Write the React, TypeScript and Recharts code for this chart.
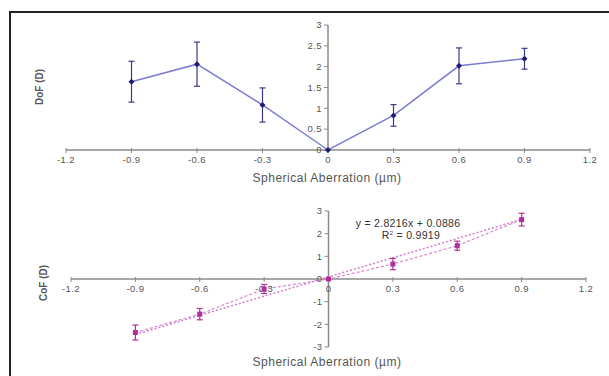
import { LineChart, Line, XAxis, YAxis, ErrorBar, ReferenceLine, ReferenceDot } from "recharts"

// spherical aberration (µm)
const aberration = [-0.9, -0.6, -0.3, 0, 0.3, 0.6, 0.9]
// top panel: depth of focus (D) with error
const dof = [1.64, 2.06, 1.08, 0, 0.83, 2.02, 2.19]
const dofErr = [0.49, 0.53, 0.41, 0, 0.26, 0.43, 0.25]
// bottom panel: centre of focus (D) with error
const cof = [-2.36, -1.55, -0.44, 0, 0.66, 1.47, 2.62]
const cofErr = [0.33, 0.25, 0.2, 0, 0.25, 0.2, 0.28]
// linear trendline end points
const trendX = [-0.9, 0.9]
const trendY = [-2.45, 2.63]

const xTicks = ["-1.2", "-0.9", "-0.6", "-0.3", "0", "0.3", "0.6", "0.9", "1.2"]
const dofTicks = ["0", "0.5", "1", "1.5", "2", "2.5", "3"]
const cofTicks = ["-3", "-2", "-1", "0", "1", "2", "3"]

const topData = aberration.map((x, i) => ({ x, y: dof[i], err: dofErr[i] }))
const bottomData = aberration.map((x, i) => ({ x, y: cof[i], err: cofErr[i] }))

const AXIS = "#8a8a8a"
const TXT = "#555"
const FONT = "'Liberation Sans', Arial, sans-serif"

const yTick = (label: string) => (p: any) => (
  <g>
    <line x1={p.cx - 4} x2={p.cx} y1={p.cy} y2={p.cy} stroke={AXIS} />
    <text x={p.cx - 6} y={p.cy} dy="0.35em" textAnchor="end" fontSize={9.5} letterSpacing={0.4} fill={TXT} fontFamily={FONT}>
      {label}
    </text>
  </g>
)

const xTick = (label: string) => (p: any) => (
  <g>
    <line x1={p.cx} x2={p.cx} y1={p.cy - 2} y2={p.cy + 3} stroke={AXIS} />
    <text x={p.cx} y={p.cy + 13} textAnchor="middle" fontSize={9.5} letterSpacing={0.4} fill={TXT} fontFamily={FONT}>
      {label}
    </text>
  </g>
)

const Diamond = (p: any) => (
  <path d={`M${p.cx},${p.cy - 3} L${p.cx + 3},${p.cy} L${p.cx},${p.cy + 3} L${p.cx - 3},${p.cy} Z`} fill="#1c1c70" />
)

const Square = (p: any) => <rect x={p.cx - 2.5} y={p.cy - 2.5} width={5} height={5} fill="#b0309a" />

const label = (extra: React.CSSProperties): React.CSSProperties => ({
  position: "absolute",
  fontFamily: FONT,
  color: TXT,
  whiteSpace: "nowrap",
  ...extra,
})

export default function App() {
  return (
    <div style={{ position: "fixed", left: 0, top: 0, width: 609, height: 376, overflow: "hidden", background: "#fff" }}>
      <div
        style={{
          position: "absolute",
          left: 9,
          top: 11,
          width: 700,
          height: 500,
          borderTop: "2px solid #222",
          borderLeft: "2px solid #222",
        }}
      />

      <div style={{ position: "absolute", left: 0, top: 0 }}>
        <LineChart width={609} height={190} data={topData} margin={{ top: 25, right: 19, bottom: 40, left: 66 }}>
          <XAxis type="number" dataKey="x" domain={[-1.2, 1.2]} hide />
          <YAxis type="number" domain={[0, 3]} hide />
          <ReferenceLine y={0} stroke={AXIS} strokeWidth={1.5} ifOverflow="visible" />
          <ReferenceLine x={0} stroke={AXIS} strokeWidth={1.5} ifOverflow="visible" />
          {xTicks.map((t) => (
            <ReferenceDot key={"x" + t} x={Number(t)} y={0} r={1} ifOverflow="visible" shape={xTick(t)} />
          ))}
          {dofTicks.map((t) => (
            <ReferenceDot key={"y" + t} x={0} y={Number(t)} r={1} ifOverflow="visible" shape={yTick(t)} />
          ))}
          <Line
            dataKey="y"
            stroke="#7c7cd2"
            strokeWidth={1.5}
            dot={<Diamond />}
            isAnimationActive={false}
          >
            <ErrorBar dataKey="err" direction="y" width={3} stroke="#3a3a8a" strokeWidth={1.2} />
          </Line>
        </LineChart>
      </div>

      <div style={{ position: "absolute", left: 0, top: 190 }}>
        <LineChart width={609} height={186} data={bottomData} margin={{ top: 21, right: 23, bottom: 29, left: 71 }}>
          <XAxis type="number" dataKey="x" domain={[-1.2, 1.2]} hide />
          <YAxis type="number" domain={[-3, 3]} hide />
          <ReferenceLine y={0} stroke={AXIS} strokeWidth={1.5} ifOverflow="visible" />
          <ReferenceLine x={0} stroke={AXIS} strokeWidth={1.5} ifOverflow="visible" />
          {xTicks.map((t) => (
            <ReferenceDot key={"x" + t} x={Number(t)} y={0} r={1} ifOverflow="visible" shape={xTick(t)} />
          ))}
          {cofTicks.map((t) => (
            <ReferenceDot key={"y" + t} x={0} y={Number(t)} r={1} ifOverflow="visible" shape={yTick(t)} />
          ))}
          <ReferenceLine
            segment={[
              { x: trendX[0], y: trendY[0] },
              { x: trendX[1], y: trendY[1] },
            ]}
            stroke="#d47ccc"
            strokeWidth={1.5}
            strokeDasharray="2 2"
            ifOverflow="visible"
          />
          <Line
            dataKey="y"
            stroke="#d88bd0"
            strokeWidth={1.2}
            strokeDasharray="3 2"
            dot={<Square />}
            isAnimationActive={false}
          >
            <ErrorBar dataKey="err" direction="y" width={3} stroke="#b0309a" strokeWidth={1.2} />
          </Line>
        </LineChart>
      </div>

      <div style={label({ left: 327, top: 178, fontSize: 12, letterSpacing: 0.5, transform: "translate(-50%, -50%)" })}>
        Spherical Aberration (µm)
      </div>
      <div style={label({ left: 327, top: 362, fontSize: 12, letterSpacing: 0.5, transform: "translate(-50%, -50%)" })}>
        Spherical Aberration (µm)
      </div>
      <div style={label({ left: 39, top: 87, fontSize: 10, fontWeight: "bold", transform: "translate(-50%, -50%) rotate(-90deg)" })}>
        DoF (D)
      </div>
      <div style={label({ left: 43, top: 283, fontSize: 10, fontWeight: "bold", transform: "translate(-50%, -50%) rotate(-90deg)" })}>
        CoF (D)
      </div>
      <div style={label({ left: 408, top: 223, fontSize: 10.5, letterSpacing: 0.3, color: "#333", transform: "translate(-50%, -50%)" })}>
        y = 2.8216x + 0.0886
      </div>
      <div style={label({ left: 411, top: 235, fontSize: 10.5, letterSpacing: 0.3, color: "#333", transform: "translate(-50%, -50%)" })}>
        R<sup style={{ fontSize: 6 }}>2</sup> = 0.9919
      </div>
    </div>
  )
}
